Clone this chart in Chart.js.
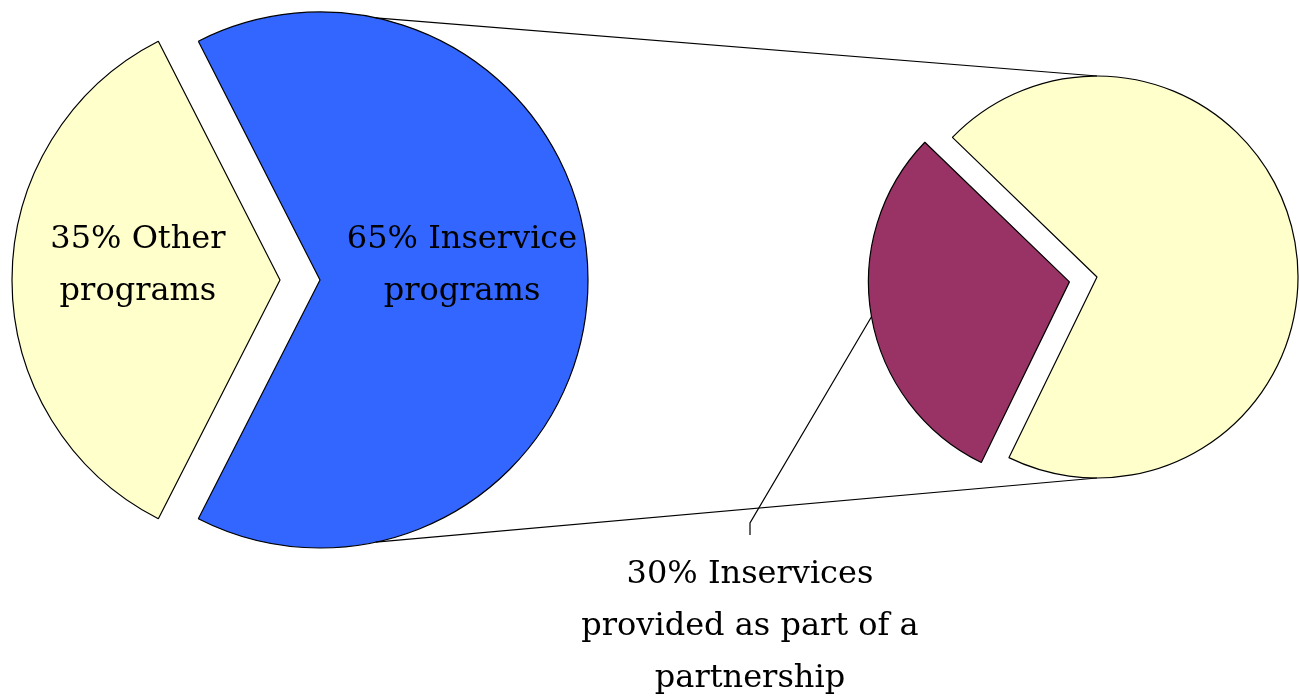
<!DOCTYPE html>
<html lang="en">
<head>
  <meta charset="UTF-8">
  <title>Inservice programs</title>
  <script src="https://cdn.jsdelivr.net/npm/chart.js"></script>
  <style>
    body {
      margin: 0;
      background-color: #ffffff;
    }

    .stage {
      position: relative;
      width: 1300px;
      height: 696px;
    }

    .stage canvas {
      position: absolute;
      left: 0;
      top: 0;
    }
  </style>
</head>
<body>
  <div class="stage">
    <canvas id="mainPie" width="1300" height="696"></canvas>
    <canvas id="detailPie" width="1300" height="696"></canvas>
  </div>

  <script>
    // all programs
    const mainCategories = ['Inservice programs', 'Other programs'];
    const mainValues = [65, 35];
    const mainLabelLines = [['Inservice', 'programs'], ['Other', 'programs']];

    // breakdown of the inservice programs
    const detailCategories = ['Provided as part of a partnership', 'Other inservices'];
    const detailValues = [30, 70];
    const detailLabelLines = [['Inservices', 'provided as part of a', 'partnership'], null];

    const FONT = '32px "DejaVu Serif", "Liberation Serif", serif';
    const LINE_HEIGHT = 52;
    const LINE_W = 1.2;

    // pulls single slices out of the pie without changing their size
    const explodePlugin = {
      id: 'explode',
      afterDatasetsUpdate(chart, args, opts) {
        const dist = opts.distances || [];
        chart.getDatasetMeta(0).data.forEach((arc, i) => {
          const d = dist[i] || 0;
          if (!d) return;
          const mid = (arc.startAngle + arc.endAngle) / 2;
          arc.x += Math.cos(mid) * d;
          arc.y += Math.sin(mid) * d;
        });
      }
    };

    function labelText(lines, value) {
      return lines.map((t, i) => (i === 0 ? value + '% ' + t : t));
    }

    // labels written inside the slices
    const insideLabels = {
      id: 'insideLabels',
      afterDatasetsDraw(chart, args, opts) {
        const ctx = chart.ctx;
        const values = chart.data.datasets[0].data;
        ctx.save();
        ctx.font = FONT;
        ctx.fillStyle = '#000';
        ctx.textAlign = 'center';
        ctx.textBaseline = 'alphabetic';
        chart.getDatasetMeta(0).data.forEach((arc, i) => {
          const lines = opts.lines[i];
          if (!lines) return;
          const mid = (arc.startAngle + arc.endAngle) / 2;
          const cx = arc.x + Math.cos(mid) * arc.outerRadius * opts.at;
          const cy = arc.y + Math.sin(mid) * arc.outerRadius * opts.at + opts.nudgeY;
          const text = labelText(lines, values[i]);
          text.forEach((t, k) => {
            const y = cy + (k - (text.length - 1) / 2) * LINE_HEIGHT + 12;
            ctx.fillText(t, cx, y);
          });
        });
        ctx.restore();
      }
    };

    // label outside the slice with a leader line
    const calloutLabels = {
      id: 'calloutLabels',
      afterDatasetsDraw(chart, args, opts) {
        const ctx = chart.ctx;
        const values = chart.data.datasets[0].data;
        const meta = chart.getDatasetMeta(0);
        const cx = (chart.chartArea.left + chart.chartArea.right) / 2;
        const cy = (chart.chartArea.top + chart.chartArea.bottom) / 2;
        ctx.save();
        meta.data.forEach((arc, i) => {
          const lines = opts.lines[i];
          if (!lines) return;
          const mid = (arc.startAngle + arc.endAngle) / 2;
          const sx = arc.x + Math.cos(mid) * arc.outerRadius;
          const sy = arc.y + Math.sin(mid) * arc.outerRadius;
          const ex = cx + opts.dx;
          const ey = cy + opts.dy;
          ctx.strokeStyle = '#000';
          ctx.lineWidth = LINE_W;
          ctx.beginPath();
          ctx.moveTo(sx, sy);
          ctx.lineTo(ex, ey);
          ctx.lineTo(ex, ey + opts.tail);
          ctx.stroke();

          ctx.font = FONT;
          ctx.fillStyle = '#000';
          ctx.textAlign = 'center';
          ctx.textBaseline = 'alphabetic';
          labelText(lines, values[i]).forEach((t, k) => {
            ctx.fillText(t, ex, ey + opts.tail + 48 + k * LINE_HEIGHT);
          });
        });
        ctx.restore();
      }
    };

    // lines joining the inservice slice to the breakdown pie
    const seriesLines = {
      id: 'seriesLines',
      afterDraw(chart, args, opts) {
        const from = opts.source().getDatasetMeta(0).data[0];
        const to = chart.getDatasetMeta(0).data[1];
        const ctx = chart.ctx;
        ctx.save();
        ctx.strokeStyle = '#000';
        ctx.lineWidth = LINE_W;
        opts.fromAngles.forEach((deg, k) => {
          const a = deg * Math.PI / 180;
          const b = opts.toAngles[k] * Math.PI / 180;
          ctx.beginPath();
          ctx.moveTo(from.x + Math.cos(a) * from.outerRadius, from.y + Math.sin(a) * from.outerRadius);
          ctx.lineTo(to.x + Math.cos(b) * to.outerRadius, to.y + Math.sin(b) * to.outerRadius);
          ctx.stroke();
        });
        ctx.restore();
      }
    };

    const mainChart = new Chart(document.getElementById('mainPie'), {
      type: 'pie',
      data: {
        labels: mainCategories,
        datasets: [{
          data: mainValues,
          backgroundColor: ['#3366FF', '#FFFFCC'],
          borderColor: '#000000',
          borderWidth: LINE_W,
          radius: 268
        }]
      },
      options: {
        responsive: false,
        animation: false,
        events: [],
        rotation: -27,
        layout: { padding: { left: 0, top: 0, right: 660, bottom: 136 } },
        plugins: {
          legend: { display: false },
          tooltip: { enabled: false },
          explode: { distances: [0, 40] },
          insideLabels: { lines: mainLabelLines, at: 0.53, nudgeY: -18 }
        }
      },
      plugins: [explodePlugin, insideLabels]
    });

    new Chart(document.getElementById('detailPie'), {
      type: 'pie',
      data: {
        labels: detailCategories,
        datasets: [{
          data: detailValues,
          backgroundColor: ['#993366', '#FFFFCC'],
          borderColor: '#000000',
          borderWidth: LINE_W,
          radius: 201
        }]
      },
      options: {
        responsive: false,
        animation: false,
        events: [],
        rotation: 206,
        layout: { padding: { left: 894, top: 0, right: 0, bottom: 142 } },
        plugins: {
          legend: { display: false },
          tooltip: { enabled: false },
          explode: { distances: [28, 0] },
          calloutLabels: { lines: detailLabelLines, dx: -347, dy: 246, tail: 12 },
          seriesLines: { source: () => mainChart, fromAngles: [-78, 78], toAngles: [-90, 90] }
        }
      },
      plugins: [explodePlugin, calloutLabels, seriesLines]
    });
  </script>
</body>
</html>
